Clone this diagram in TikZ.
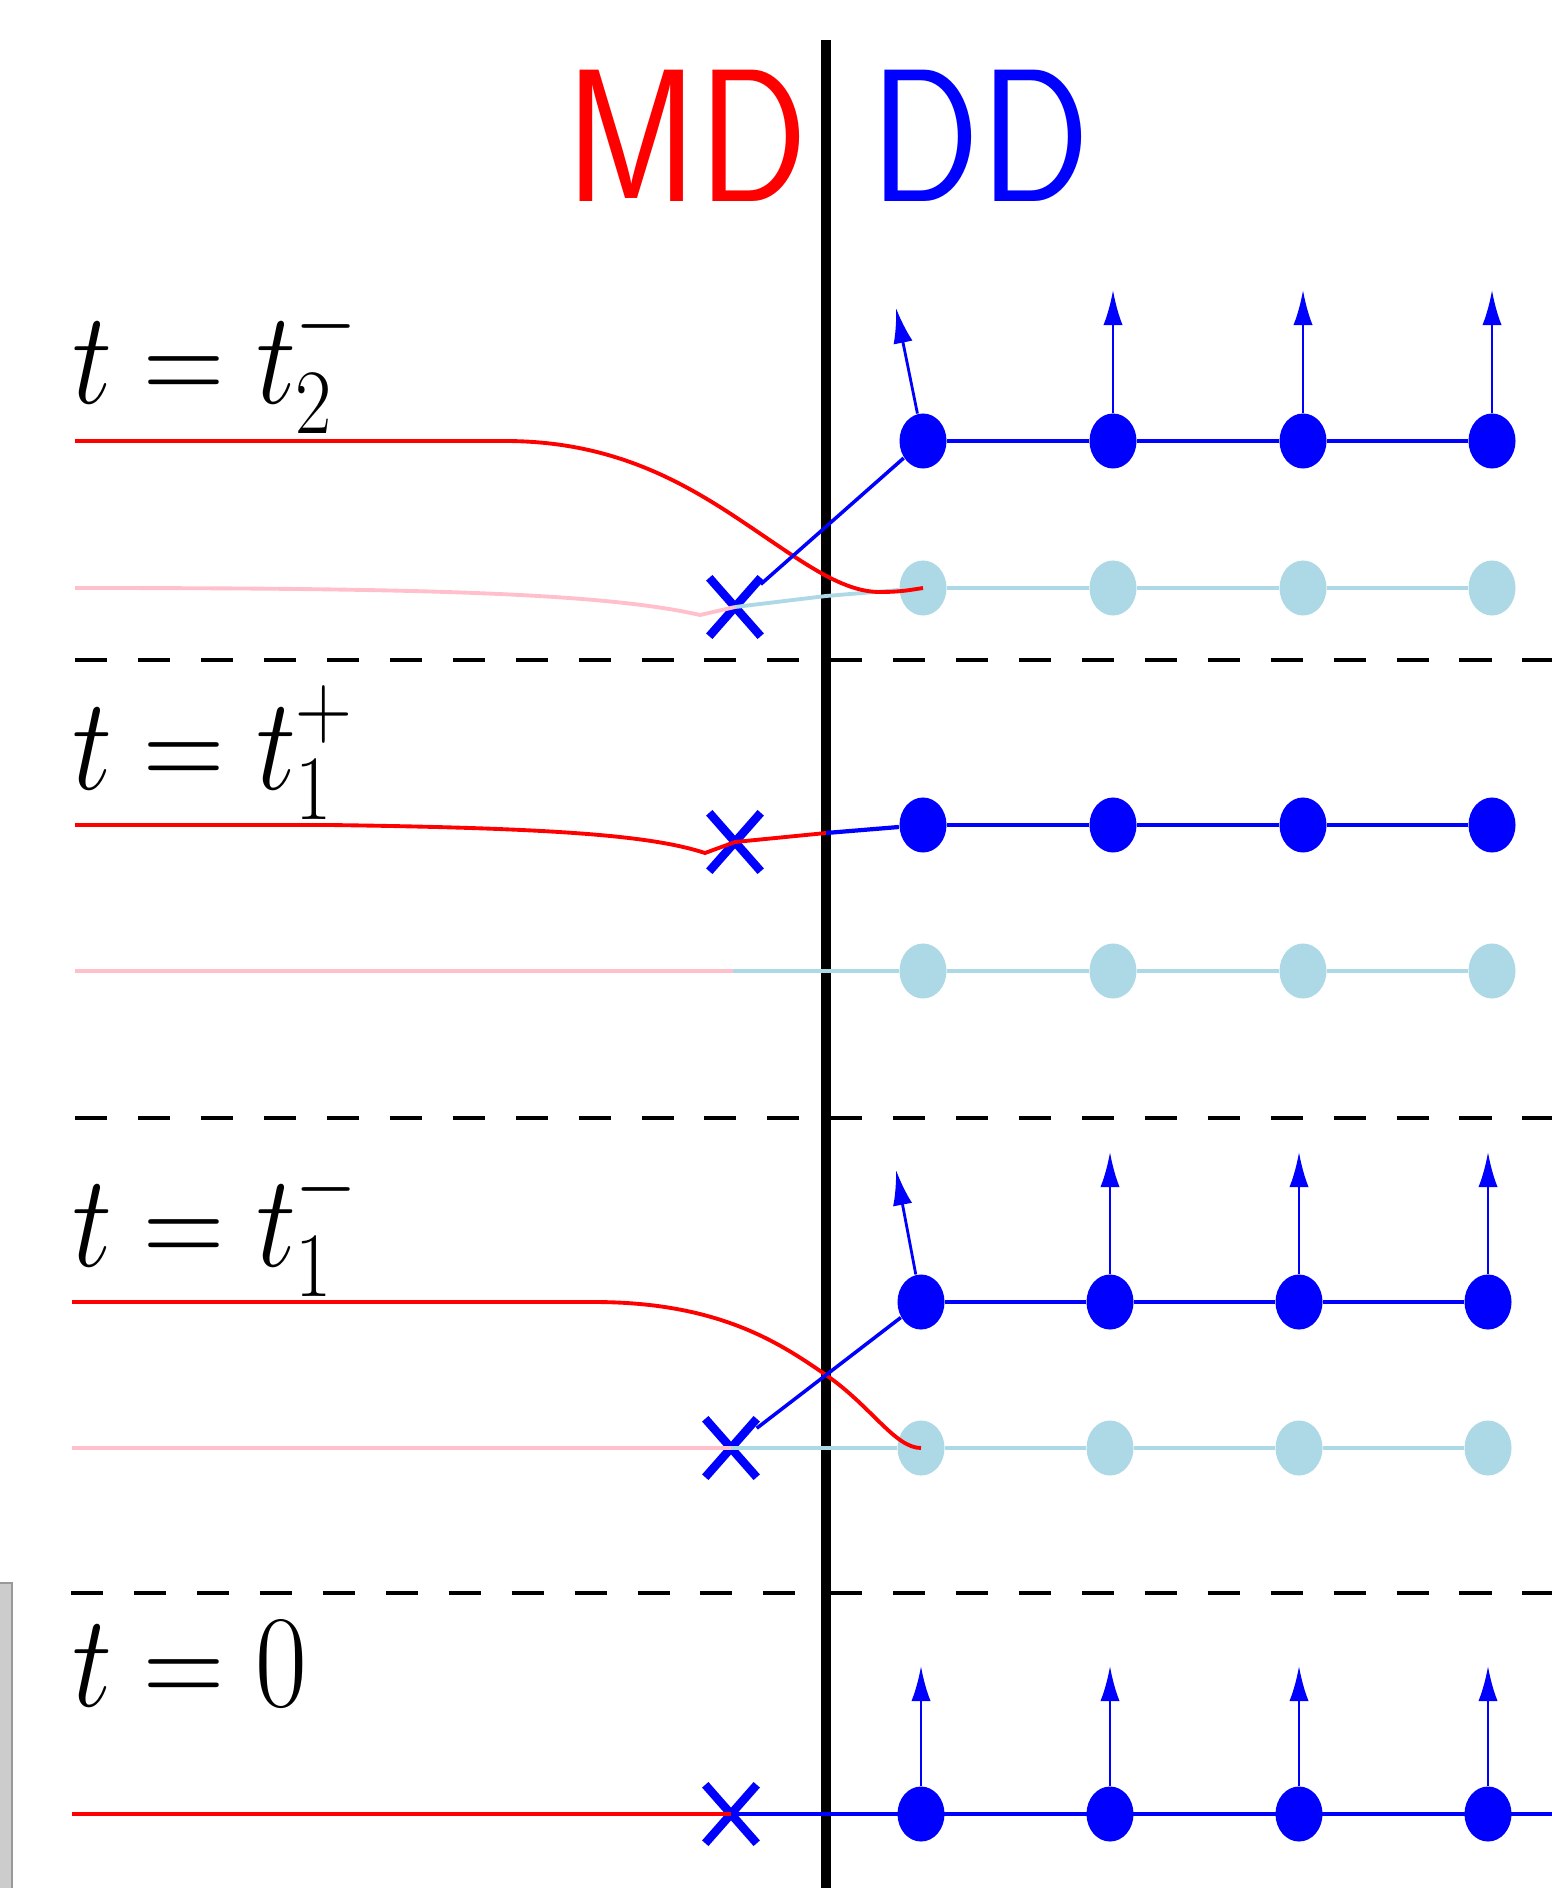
\documentclass[tikz,border=0pt]{standalone}
\usepackage{fix-cm}
\usepackage{amsmath}
\usepackage{tikz}
\usepackage{xcolor}
\usetikzlibrary{shapes.geometric, shapes.misc, arrows.meta, positioning, calc}

\definecolor{mdred}{RGB}{255,0,0}
\definecolor{ddblue}{RGB}{0,0,255}
\definecolor{mdpink}{RGB}{255,192,203}
\definecolor{ddlight}{RGB}{173,216,230}

\begin{document}
\begin{tikzpicture}[
    x=0.01cm, y=-0.01cm,
    atom/.style={ellipse, fill=ddblue, minimum width=0.47cm, minimum height=0.55cm, inner sep=0pt},
    ghost/.style={atom, fill=ddlight},
    xmark/.style={cross out, draw=ddblue, line width=2.4pt, minimum width=0.43cm, minimum height=0.5cm, inner sep=0pt},
    chain/.style={ddblue, line width=1.2pt},
    ghostchain/.style={ddlight, line width=1.1pt},
    mdline/.style={mdred, line width=1.1pt},
    mdghost/.style={mdpink, line width=1.1pt},
    spin/.style={-{Latex[length=10pt,width=5.5pt]}, ddblue, line width=0.8pt},
    cut/.style={dash pattern=on 9.1pt off 8.8pt, line width=1.4pt},
    timelabel/.style={anchor=base west, inner sep=0pt, font=\fontsize{32}{38}\selectfont, yscale=1.17},
    region/.style={inner sep=0pt, font=\fontsize{46}{50}\selectfont\sffamily, yscale=1.17}
]
    \useasboundingbox (0,0) rectangle (1552,1888);
    \fill[black!20] (0,1583) rectangle (12,1888);
    \draw[black!40, line width=0.6pt] (0,1583) -- (12,1583) -- (12,1888);

    % interface and time slices
    \draw[line width=2.6pt] (826,40) -- (826,1888);
    \draw[cut] (75,660) -- (826,660);
    \draw[cut] (830,660) -- (1552,660);
    \draw[cut] (75,1118) -- (826,1118);
    \draw[cut] (830,1118) -- (1552,1118);
    \draw[cut] (71,1593) -- (826,1593);
    \draw[cut] (830,1593) -- (1552,1593);

    \node[region, text=mdred, anchor=base east] (md) at (809,202) {MD};
    \node[region, text=ddblue, anchor=base west] (dd) at (870,202) {DD};

    \node[timelabel] (lab2m) at (72,403) {$t=t_2^-$};
    \node[timelabel] (lab1p) at (72,789) {$t=t_1^+$};
    \node[timelabel] (lab1m) at (72,1266) {$t=t_1^-$};
    \node[timelabel] (lab0) at (72,1706) {$t=0$};

    % t = t_2^-
    \foreach \i/\x in {1/923,2/1113,3/1303,4/1492} {
        \node[ghost] (g2\i) at (\x,588) {};
        \node[atom] (m2\i) at (\x,441) {};
        \coordinate (tip2\i) at (\x,290);
    }
    \node[xmark] (x2m) at (735,607) {};
    \coordinate (tip21) at (896,308);
    \draw[ghostchain] (g21) -- (g22) -- (g23) -- (g24);
    \draw[chain] (m21) -- (m22) -- (m23) -- (m24);
    \draw[mdghost] (75,588) .. controls (400,588) and (600,592) .. (700,615) -- (x2m.center);
    \draw[ghostchain] (x2m.center) -- (826,596) -- (g21);
    \draw[mdline] (75,441) -- (505,441) .. controls (610,441) and (680,480) .. (740,520)
        .. controls (800,560) and (840,592) .. (880,592) .. controls (900,592) and (910,590) .. (g21.center);
    \draw[ddblue, line width=1pt] (x2m) -- (m21);
    \foreach \i in {1,2,3,4} \draw[spin] (m2\i) -- (tip2\i);

    % t = t_1^+
    \foreach \i/\x in {1/923,2/1113,3/1303,4/1492} {
        \node[ghost] (h1\i) at (\x,971) {};
        \node[atom] (p1\i) at (\x,825) {};
    }
    \node[xmark] (x1p) at (735,842) {};
    \draw[ghostchain] (h11) -- (h12) -- (h13) -- (h14);
    \draw[chain] (p11) -- (p12) -- (p13) -- (p14);
    \draw[mdghost] (75,971) -- (733,971);
    \draw[ghostchain] (733,971) -- (h11);
    \draw[mdline] (75,825) -- (330,825) .. controls (550,828) and (650,835) .. (705,853) -- (x1p.center) -- (826,833);
    \draw[chain] (826,833) -- (p11);

    % t = t_1^-
    \foreach \i/\x in {1/921,2/1110,3/1299,4/1488} {
        \node[ghost] (g1\i) at (\x,1448) {};
        \node[atom] (m1\i) at (\x,1302) {};
        \coordinate (tip1\i) at (\x,1152);
    }
    \node[xmark] (x1m) at (731,1448) {};
    \coordinate (tip11) at (896,1170);
    \draw[ghostchain] (g11) -- (g12) -- (g13) -- (g14);
    \draw[chain] (m11) -- (m12) -- (m13) -- (m14);
    \draw[mdghost] (72,1448) -- (x1m.center);
    \draw[ghostchain] (x1m.center) -- (g11);
    \draw[mdline] (72,1302) -- (594,1302) .. controls (720,1302) and (781,1344) .. (826,1375)
        .. controls (871,1406) and (895,1448) .. (g11.center);
    \draw[ddblue, line width=1pt] (x1m) -- (m11);
    \foreach \i in {1,2,3,4} \draw[spin] (m1\i) -- (tip1\i);

    % t = 0
    \node[xmark] (x0) at (731,1814) {};
    \coordinate (edge0) at (1552,1814);
    \draw[mdline] (72,1814) -- (x0.center);
    \draw[chain] (x0.center) -- (edge0);
    \foreach \i/\x in {1/921,2/1110,3/1299,4/1488} {
        \node[atom] (z\i) at (\x,1814) {};
        \coordinate (tip0\i) at (\x,1666);
        \draw[spin] (z\i) -- (tip0\i);
    }
\end{tikzpicture}
\end{document}
